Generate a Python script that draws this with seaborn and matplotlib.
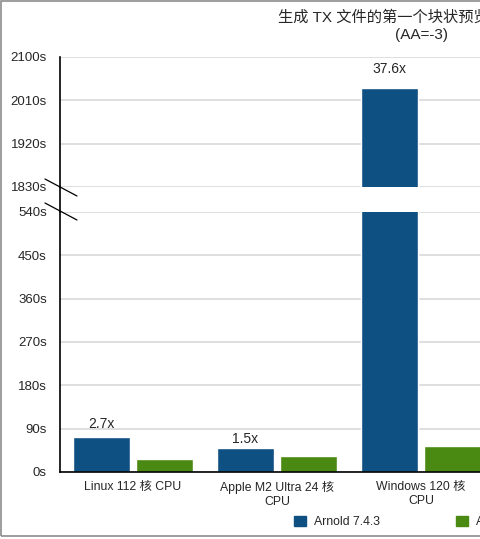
import numpy as np
import pandas as pd
import matplotlib.pyplot as plt
import seaborn as sns
from matplotlib.lines import Line2D
from matplotlib.patches import Rectangle, Patch

sns.set_style(style='white')
plt.rcParams['font.family'] = ['Liberation Sans', 'Noto Sans CJK SC', 'DejaVu Sans']

categories = ["Linux 112 核 CPU", "Apple M2 Ultra 24 核\nCPU", "Windows 120 核\nCPU"]
versions = ["Arnold 7.4.3", "Arnold 7.4.4"]
old_times = [73, 49.5, 2035]
new_times = [27, 33, 54]
speedups = ["2.7x", "1.5x", "37.6x"]
colors = ["#0F5083", "#4A8A12"]
yticks_low = [0, 90, 180, 270, 360, 450, 540]
yticks_high = [1830, 1920, 2010, 2100]
title = "生成 TX 文件的第一个块状预览所需的时间\n(AA=-3)"

df = pd.DataFrame({
    "cpu": categories * 2,
    "version": [versions[0]] * 3 + [versions[1]] * 3,
    "seconds": old_times + new_times,
})

W, H = 480, 539
fig = plt.figure(figsize=(W / 100, H / 100), dpi=100)

def box(x0, y0, x1, y1):
    # pixel box -> figure fraction rect
    return [x0 / W, 1 - y1 / H, (x1 - x0) / W, (y1 - y0) / H]

ax_hi = fig.add_axes(box(60, 57, 784, 187))
ax_lo = fig.add_axes(box(60, 212, 784, 472))

for ax in (ax_hi, ax_lo):
    sns.barplot(data=df, x="cpu", y="seconds", hue="version",
                order=categories, hue_order=versions, palette=colors,
                width=0.875, gap=0.095, saturation=1, legend=False, ax=ax)
    ax.set_xlim(-0.507, 4.52)
    ax.set_xlabel("")
    ax.set_ylabel("")
    ax.grid(axis="y", color="#d9d9d9", lw=1.2)
    ax.set_axisbelow(True)
    for s in ["top", "right", "bottom"]:
        ax.spines[s].set_visible(False)
    ax.spines["left"].set_color("black")
    ax.spines["left"].set_linewidth(1.2)
    ax.tick_params(axis="y", length=0, pad=9.5, labelsize=9.5)

ax_lo.set_ylim(0, 540)
ax_lo.set_yticks(yticks_low, [f"{v}s" for v in yticks_low])
ax_lo.spines["bottom"].set_visible(True)
ax_lo.spines["bottom"].set_color("black")
ax_lo.spines["bottom"].set_linewidth(1.2)
ax_lo.tick_params(axis="x", length=0, pad=6.5, labelsize=8.8)

ax_hi.set_ylim(1830, 2100)
ax_hi.set_yticks(yticks_high, [f"{v}s" for v in yticks_high])
ax_hi.tick_params(axis="x", bottom=False, labelbottom=False)

# speedup labels over the Arnold 7.4.3 bars
pads = [4, 1.5, 9]
for i, txt in enumerate(speedups):
    ax = ax_hi if old_times[i] > 540 else ax_lo
    labels = [txt if j == i else "" for j in range(len(speedups))]
    ax.bar_label(ax.containers[0], labels=labels, padding=pads[i], fontsize=10)

# axis line through the break, plus break marks
fig.add_artist(Line2D([60 / W, 60 / W], [1 - 187 / H, 1 - 212 / H], color="black", lw=1.2))
for yc in (187.5, 211.5):
    fig.add_artist(Line2D([45 / W, 77 / W], [1 - (yc - 8.5) / H, 1 - (yc + 8.5) / H],
                          color="black", lw=0.9))

fig.text(422 / W, 1 - 26 / H, title, ha="center", va="center", fontsize=11, linespacing=1.3)

fig.legend(handles=[Patch(color=c) for c in colors], labels=versions,
           loc="center", bbox_to_anchor=(418 / W, 1 - 522 / H), ncol=2, frameon=False,
           handlelength=0.95, handleheight=0.95, handletextpad=0.65,
           columnspacing=6.25, fontsize=8.8)

fig.add_artist(Rectangle((1 / W, 3 / H), 842 / W, 535 / H, transform=fig.transFigure,
                         fill=False, edgecolor="#8c8c8c", lw=1.2))

fig.savefig("out.png", dpi=100)
